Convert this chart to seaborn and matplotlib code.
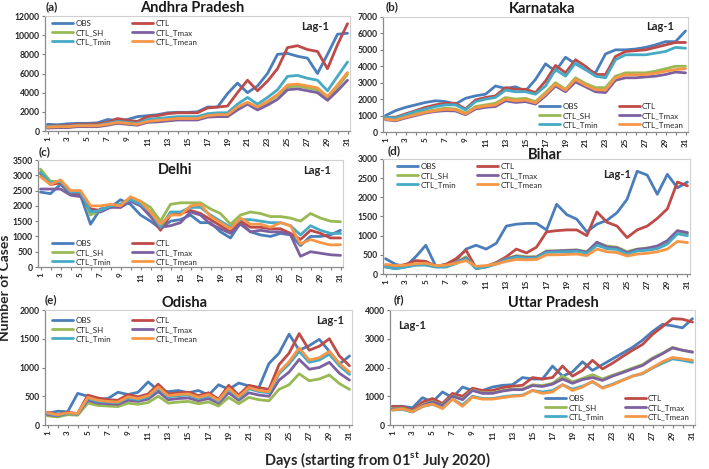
import numpy as np
import pandas as pd
import matplotlib
matplotlib.use('Agg')
import matplotlib.pyplot as plt
import seaborn as sns

sns.set_theme(style='white')
plt.rcParams['font.family'] = ['Lato', 'DejaVu Sans']
plt.rcParams['mathtext.fontset'] = 'custom'
plt.rcParams['mathtext.rm'] = 'Lato'
plt.rcParams['mathtext.bf'] = 'Lato:bold'

days = list(range(1, 32))
series = ['OBS', 'CTL', 'CTL_SH', 'CTL_Tmax', 'CTL_Tmin', 'CTL_Tmean']
colors = {'OBS': '#4a7ebb', 'CTL': '#be4b48', 'CTL_SH': '#98b954',
          'CTL_Tmax': '#7d60a0', 'CTL_Tmin': '#46aac5', 'CTL_Tmean': '#f79646'}

# Andhra Pradesh
ap_obs = [700,650,750,800,800,850,1200,1100,1200,1500,1600,1700,1900,1950,1950,2000,2500,2500,3900,5000,4000,4700,6000,8000,8100,7800,7600,6000,8000,10100,10200]
ap_ctl = [500,550,600,700,700,750,900,1300,1100,1000,1500,1600,1800,1900,1900,1900,2400,2500,2600,4000,5300,4200,5200,6500,8700,8900,8500,8300,6500,9000,11200]
ap_sh = [380,420,430,520,520,520,680,880,780,680,980,1050,1150,1250,1250,1250,1550,1650,1650,2400,2900,2400,3000,3700,4600,4700,4500,4300,3500,4600,5900]
ap_tmax = [300,350,350,450,450,450,600,800,700,600,900,950,1050,1150,1150,1150,1450,1500,1500,2200,2800,2200,2700,3300,4300,4400,4200,4000,3200,4200,5300]
ap_tmin = [450,500,500,600,600,600,800,1000,900,800,1200,1300,1400,1500,1500,1500,1800,1900,1900,2800,3500,2800,3500,4300,5700,5800,5500,5300,4200,5700,7200]
ap_tmean = [400,450,450,550,550,550,700,900,800,700,1000,1100,1200,1300,1300,1300,1600,1700,1700,2500,3000,2500,3100,3800,4800,4900,4700,4500,3600,4800,6100]

# Karnataka
ka_obs = [1000,1300,1500,1650,1800,1900,1850,1700,2050,2200,2300,2800,2650,2750,2500,3200,4150,3700,4550,4150,3800,3600,4750,5000,5000,5050,5150,5300,5500,5500,6150]
ka_ctl = [900,900,1100,1300,1500,1650,1750,1750,1400,1950,2100,2200,2700,2600,2600,2400,3100,4050,3600,4400,4000,3500,3500,4600,4900,4950,5000,5150,5300,5450,5450]
ka_sh = [800,750,950,1100,1250,1350,1450,1400,1150,1550,1650,1750,2100,2000,2050,1850,2400,3000,2600,3300,2950,2700,2700,3400,3600,3600,3600,3700,3850,4000,4000]
ka_tmax = [750,680,850,1000,1150,1250,1300,1280,1050,1400,1500,1550,1900,1800,1850,1700,2200,2800,2450,3050,2750,2450,2400,3150,3300,3300,3350,3400,3500,3650,3600]
ka_tmin = [900,850,1050,1250,1400,1550,1650,1650,1350,1850,2000,2100,2550,2450,2450,2300,2800,3800,3400,4200,3800,3400,3300,4400,4700,4700,4700,4800,4900,5150,5100]
ka_tmean = [780,720,900,1050,1200,1300,1380,1350,1100,1480,1580,1650,2000,1900,1950,1780,2300,2900,2550,3200,2850,2580,2550,3300,3480,3480,3500,3580,3700,3800,3850]

# Delhi
dl_obs = [2450,2400,2700,2400,2350,1400,1900,1950,2200,2050,1700,1500,1250,1500,1550,1700,1450,1450,1150,950,1450,1150,1050,1000,1100,1050,700,1000,1000,1050,1200]
dl_ctl = [3050,2700,2750,2450,2400,1900,1850,2000,1950,2200,2050,1700,1200,1700,1750,1850,1750,1550,1350,1150,1500,1300,1300,1250,1250,1100,900,1200,1100,950,950]
dl_sh = [3200,2800,2800,2500,2450,1700,1850,2000,2050,2250,2150,1950,1500,2050,2100,2100,2100,1900,1750,1400,1700,1800,1750,1650,1650,1600,1500,1750,1600,1500,1480]
dl_tmax = [2550,2550,2550,2350,2300,1850,1800,1950,1950,2150,2000,1650,1300,1350,1450,1800,1700,1400,1250,1100,1400,1150,1200,1150,1150,1050,350,500,450,400,380]
dl_tmin = [3100,2750,2800,2450,2450,1800,1850,2000,2050,2200,2050,1800,1300,1800,1800,1950,1950,1700,1500,1300,1550,1550,1500,1450,1450,1350,1050,1350,1200,1100,1100]
dl_tmean = [2950,2700,2850,2500,2500,2000,2000,2050,2000,2300,2150,1800,1400,1700,1700,2000,2050,1650,1450,1250,1600,1400,1400,1300,1450,1350,750,900,800,720,730]

# Bihar
bh_obs = [400,250,200,450,750,200,250,350,650,750,650,800,1250,1300,1320,1320,1150,1820,1550,1430,1100,1300,1400,1600,1950,2680,2580,2080,2600,2250,2400]
bh_ctl = [200,200,250,350,330,200,250,400,620,150,200,300,450,650,550,700,1100,1130,1150,1150,1000,1620,1350,1250,950,1150,1250,1450,1700,2400,2300]
bh_sh = [200,150,200,250,250,200,200,300,450,150,200,280,400,480,450,450,600,600,620,630,580,820,730,700,580,650,680,720,850,1120,1050]
bh_tmax = [190,140,190,240,250,190,190,290,420,140,190,270,390,460,430,440,590,600,610,620,570,830,700,680,560,640,670,730,870,1130,1080]
bh_tmin = [180,140,180,230,230,180,180,270,400,140,180,260,370,440,410,420,560,570,580,590,540,750,660,640,520,600,620,660,780,1050,1000]
bh_tmean = [250,220,230,270,280,220,230,280,350,200,220,260,330,380,370,380,500,500,510,520,480,650,580,560,470,520,540,580,650,850,820]

# Odisha
od_obs = [200,240,230,550,500,450,460,570,530,570,750,600,580,600,560,600,520,700,620,730,680,650,1070,1250,1580,1300,1380,1490,1280,1060,1200]
od_ctl = [220,180,220,200,520,470,440,430,530,490,540,710,540,560,570,510,560,450,690,520,690,650,620,1050,1250,1590,1300,1370,1500,1200,1030]
od_sh = [160,140,180,170,380,340,330,320,380,360,390,500,380,400,410,370,400,330,480,370,480,440,420,620,700,890,770,800,870,720,620]
od_tmax = [180,160,200,190,430,380,370,360,430,410,450,580,440,460,470,420,460,380,560,430,560,520,500,780,920,1140,970,1000,1090,900,780]
od_tmin = [200,170,200,190,460,410,400,390,470,440,490,640,490,510,520,460,510,410,620,470,630,580,560,890,1060,1280,1090,1130,1230,1030,880]
od_tmean = [210,180,210,200,480,430,410,400,490,460,510,660,510,530,540,480,530,430,640,490,650,600,580,920,1100,1340,1130,1170,1280,1070,920]

# Uttar Pradesh
up_obs = [650,650,600,950,800,1150,950,1320,1200,1200,1320,1380,1400,1650,1600,1600,2050,1700,1850,2200,1900,2100,2300,2500,2700,2950,3250,3500,3450,3380,3700]
up_ctl = [650,630,520,800,920,750,1100,1000,1280,1200,1200,1300,1350,1380,1650,1600,1650,2050,1700,1900,2250,1950,2150,2380,2600,2800,3150,3420,3700,3680,3580]
up_sh = [580,580,480,700,820,700,1020,900,1220,1120,1120,1200,1250,1250,1400,1370,1450,1700,1500,1620,1750,1600,1730,1850,1980,2100,2330,2500,2700,2600,2550]
up_tmax = [560,560,470,680,800,680,1000,880,1200,1100,1100,1180,1230,1230,1370,1340,1420,1600,1450,1580,1650,1550,1700,1820,1950,2070,2300,2480,2680,2600,2530]
up_tmin = [520,540,450,640,720,600,900,700,1000,920,920,980,1020,1040,1200,1150,1200,1400,1250,1350,1500,1300,1420,1560,1700,1780,1980,2150,2300,2250,2180]
up_tmean = [520,560,460,650,730,570,900,650,970,900,900,950,1000,1020,1200,1100,1150,1400,1200,1320,1520,1280,1400,1550,1700,1800,2000,2200,2350,2300,2250]

W, H = 709, 469
fig = plt.figure(figsize=(W / 100, H / 100), dpi=100)


def fx(px):
    return px / W


def fy(py):
    return 1 - py / H


panels = [
    # label, title, data, box(l,t,r,b px), ymax, ystep, legend loc, legend anchor px, title px, lag px, label px
    ('(a)', 'Andhra Pradesh', [ap_obs, ap_ctl, ap_sh, ap_tmax, ap_tmin, ap_tmean],
     (45, 16, 350, 131), 12000, 2000, 'upper left', (52, 20), (192, 8), (315, 27), (46, 7)),
    ('(b)', 'Karnataka', [ka_obs, ka_ctl, ka_sh, ka_tmax, ka_tmin, ka_tmean],
     (383, 17, 688, 132), 7000, 1000, 'lower right', (684, 128), (542, 9), (660, 27), (386, 7)),
    ('(c)', 'Delhi', [dl_obs, dl_ctl, dl_sh, dl_tmax, dl_tmin, dl_tmean],
     (38, 160, 343, 267), 3500, 500, 'lower left', (52, 265), (175, 170), (317, 170), (39, 152)),
    ('(d)', 'Bihar', [bh_obs, bh_ctl, bh_sh, bh_tmax, bh_tmin, bh_tmean],
     (383, 159, 690, 274), 3000, 500, 'upper left', (397, 163), (545, 155), (617, 175), (388, 151)),
    ('(e)', 'Odisha', [od_obs, od_ctl, od_sh, od_tmax, od_tmin, od_tmean],
     (45, 310, 352, 425), 2000, 500, 'upper left', (52, 317), (185, 303), (330, 320), (45, 300)),
    ('(f)', 'Uttar Pradesh', [up_obs, up_ctl, up_sh, up_tmax, up_tmin, up_tmean],
     (390, 310, 695, 425), 4000, 1000, 'lower right', (690, 420), (553, 303), (412, 325), (394, 300)),
]

leg_order = ['OBS', 'CTL_SH', 'CTL_Tmin', 'CTL', 'CTL_Tmax', 'CTL_Tmean']

for lab, title, vals, box, ymax, ystep, lloc, lanchor, tpos, lagpos, labpos in panels:
    l, t, r, b = box
    ax = fig.add_axes([fx(l), fy(b), fx(r - l), (b - t) / H])
    df = pd.DataFrame({'day': days * 6,
                       'cases': sum(vals, []),
                       'series': np.repeat(series, 31)})
    sns.lineplot(data=df, x='day', y='cases', hue='series', hue_order=series,
                 palette=colors, linewidth=2.0, ax=ax)
    leg = ax.get_legend()
    hmap = {tx.get_text(): h for tx, h in zip(leg.texts, leg.legend_handles)}
    leg.remove()
    ax.legend([hmap[k] for k in leg_order], leg_order, ncol=2, loc=lloc,
              bbox_to_anchor=(fx(lanchor[0]), fy(lanchor[1])),
              bbox_transform=fig.transFigure, frameon=False,
              fontsize=5.8, handlelength=2.6, handletextpad=0.3,
              labelspacing=0.25, columnspacing=2.6, borderaxespad=0, borderpad=0)
    ax.set_xlim(0.75, 31.25)
    ax.set_ylim(0, ymax)
    ax.set_xticks(days)
    ax.set_xticklabels([str(d) if d % 2 == 1 else '' for d in days],
                       rotation=90, fontsize=5.8, fontweight='bold')
    ax.set_yticks(np.arange(0, ymax + 1, ystep))
    ax.set_yticklabels([str(v) for v in np.arange(0, ymax + 1, ystep)],
                       fontsize=6.2, fontweight='bold')
    ax.tick_params(axis='both', which='both', length=2.5, width=0.8, pad=1.5,
                   color='#7f7f7f', bottom=True, left=True)
    for side in ['top', 'right']:
        ax.spines[side].set_color('#d0d0d0')
        ax.spines[side].set_linewidth(0.8)
    for side in ['left', 'bottom']:
        ax.spines[side].set_color('#8c8c8c')
        ax.spines[side].set_linewidth(0.9)
    ax.set_xlabel('')
    ax.set_ylabel('')
    fig.text(fx(tpos[0]), fy(tpos[1]), title, ha='center', va='center',
             fontsize=10.5, fontweight='bold', color='#1a1a1a')
    fig.text(fx(lagpos[0]), fy(lagpos[1]), 'Lag-1', ha='center', va='center',
             fontsize=8, fontweight='bold')
    fig.text(fx(labpos[0]), fy(labpos[1]), lab, ha='left', va='center',
             fontsize=8.5, fontweight='bold')

fig.text(fx(5), fy(288), 'Number of Cases', rotation=90, ha='center', va='center',
         fontsize=10, fontweight='bold')
fig.text(fx(377), fy(459), r'Days (starting from 01$^{\mathbf{st}}$ July 2020)',
         ha='center', va='center', fontsize=10.5, fontweight='bold')

fig.savefig('out.png', dpi=100)
